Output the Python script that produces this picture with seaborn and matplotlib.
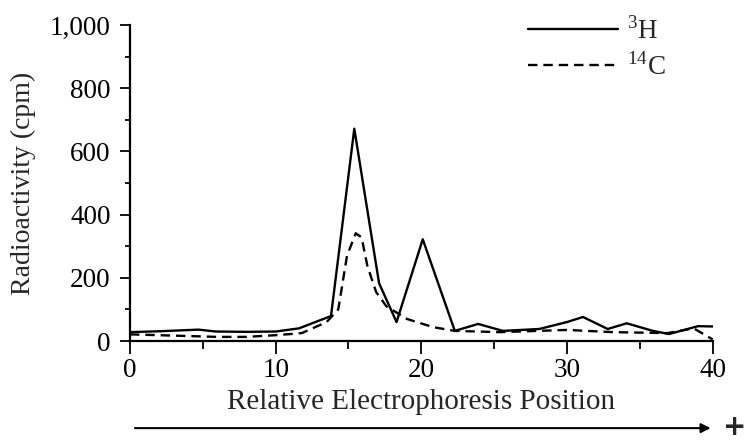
import numpy as np
import pandas as pd
import seaborn as sns
import matplotlib.pyplot as plt
from matplotlib.patches import FancyArrowPatch

# 3H trace (solid)
pos_h = [0, 2.1, 4.7, 5.9, 8, 10, 11.6, 13.8, 15.4, 17.1, 18.3, 20.1, 22.3, 23.9,
         25.6, 28.1, 30.0, 31.1, 32.8, 34.1, 35.9, 37.0, 39.0, 40.0]
cpm_h = [28, 31, 36, 30, 29, 30, 40, 79, 672, 183, 60, 322, 32, 54,
         32, 38, 60, 76, 38, 56, 32, 22, 47, 46]

# 14C trace (dashed)
pos_c = [0, 3.8, 6, 8, 10.2, 11.8, 13.5, 14.3, 14.9, 15.5, 15.9, 16.3, 16.9, 17.6,
         19.0, 20.8, 22.3, 25.4, 28, 30, 33.2, 36.9, 38.7, 40.0]
cpm_c = [21, 16, 13, 13, 19, 25, 60, 100, 270, 341, 328, 237, 155, 110,
         70, 44, 32, 28, 32, 35, 28, 25, 40, 5]

df = pd.concat([
    pd.DataFrame({"pos": pos_h, "cpm": cpm_h, "iso": "3H"}),
    pd.DataFrame({"pos": pos_c, "cpm": cpm_c, "iso": "14C"}),
])

sns.set_style("ticks")
plt.rcParams['font.family'] = ['Liberation Serif', 'DejaVu Serif']
plt.rcParams['mathtext.fontset'] = 'custom'
plt.rcParams['mathtext.rm'] = 'Liberation Serif'

fig = plt.figure(figsize=(7.47, 4.4), dpi=100)
ax = fig.add_axes([0.174, 0.225, 0.78, 0.718])

sns.lineplot(data=df, x="pos", y="cpm", hue="iso", style="iso",
             palette={"3H": "black", "14C": "black"},
             dashes={"3H": "", "14C": (4, 2.5)},
             sort=False, estimator=None, linewidth=1.7, ax=ax, legend=False)

ax.set_xlim(0, 40)
ax.set_ylim(0, 1000)
ax.set_xticks([0, 10, 20, 30, 40])
ax.set_xticks([5, 15, 25, 35], minor=True)
ax.set_yticks(range(0, 1001, 200))
ax.set_yticks(range(100, 1000, 200), minor=True)
ax.set_yticklabels(["0", "200", "400", "600", "800", "1,000"])
ax.tick_params(labelsize=19.5, width=1.3, color="black", labelcolor="black")
ax.tick_params(axis="x", length=9.5, pad=3)
ax.tick_params(axis="x", which="minor", length=6, width=1.3, color="black")
ax.tick_params(axis="y", length=7, pad=7)
ax.tick_params(axis="y", which="minor", length=3.5, width=1.3, color="black")
for s in ["left", "bottom"]:
    ax.spines[s].set_linewidth(1.6)
    ax.spines[s].set_color("black")
sns.despine(ax=ax)

ax.set_xlabel("Relative Electrophoresis Position", fontsize=21, labelpad=4)
ax.set_ylabel("Radioactivity (cpm)", fontsize=20, labelpad=10)

h1, = ax.plot([], [], color="black", lw=1.7)
h2, = ax.plot([], [], color="black", lw=1.7, dashes=(4, 2.5))
fig.legend([h1, h2], [r"$^{3}$H", r"$^{14}$C"], loc="upper left",
           bbox_to_anchor=(0.707, 0.962), frameon=False, fontsize=19.5,
           handlelength=3.3, labelspacing=0.28, handletextpad=0.35,
           borderpad=0, borderaxespad=0)

# electrophoresis direction arrow
fig.add_artist(FancyArrowPatch(
    (0.177, 0.027), (0.955, 0.027), transform=fig.transFigure,
    arrowstyle="-|>", mutation_scale=14, lw=1.5, color="black"))
fig.text(0.984, 0.012, "+", fontsize=20, fontweight="bold",
         family="DejaVu Sans", ha="center", va="baseline")

fig.savefig("out.png", dpi=100)
